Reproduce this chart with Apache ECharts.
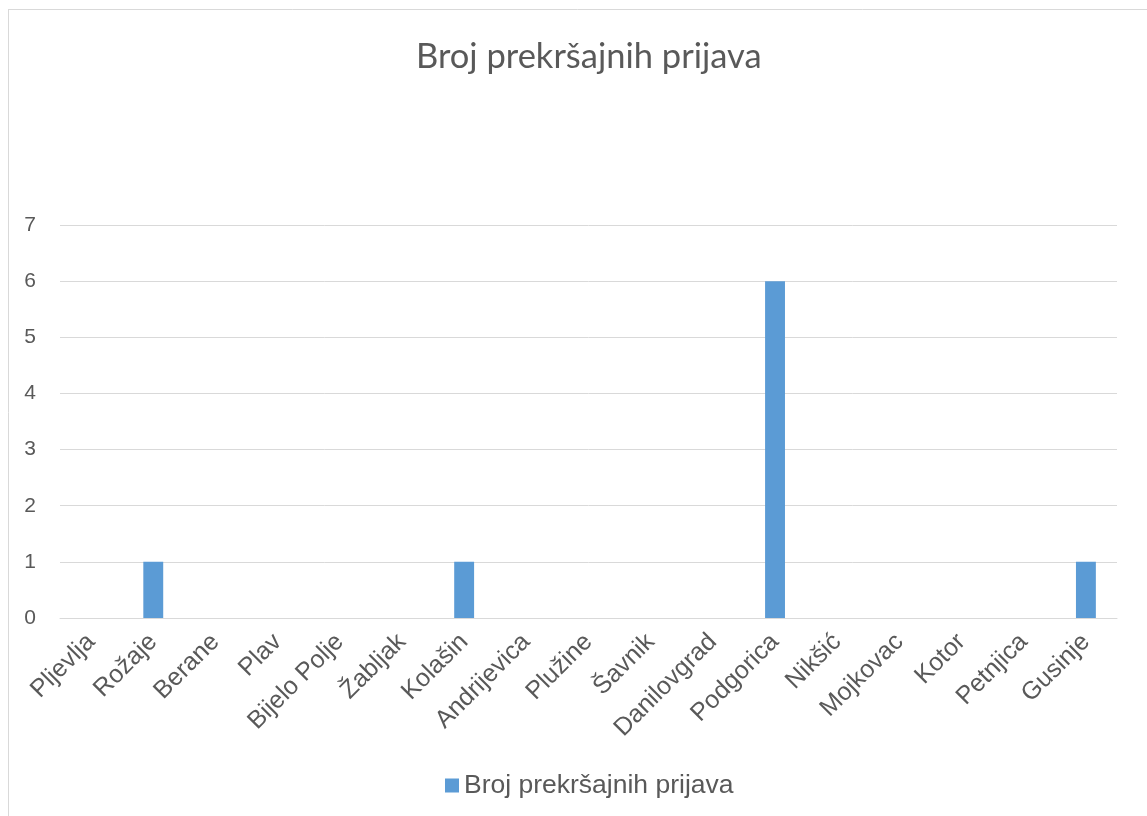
<!DOCTYPE html>
<html>
<head>
<meta charset="utf-8">
<script src="https://cdn.jsdelivr.net/npm/echarts@6/dist/echarts.min.js"></script>
<style>
html, body { margin: 0; padding: 0; background: #fff; }
#box { width: 1147px; height: 816px; }
</style>
</head>
<body>
<div id="box"></div>
<script>
// gradovi i broj prijava
var cities = ['Pljevlja', 'Rožaje', 'Berane', 'Plav', 'Bijelo Polje', 'Žabljak', 'Kolašin', 'Andrijevica',
    'Plužine', 'Šavnik', 'Danilovgrad', 'Podgorica', 'Nikšić', 'Mojkovac', 'Kotor', 'Petnjica', 'Gusinje'];
var counts = [0, 1, 0, 0, 0, 0, 1, 0, 0, 0, 0, 6, 0, 0, 0, 0, 1];
var seriesName = 'Broj prekršajnih prijava';
var titleText = 'Broj prekršajnih prijava';

var myChart = echarts.init(document.getElementById('box'));
var option = {
    backgroundColor: '#fff',
    animation: false,
    title: {
        text: titleText,
        left: 411,
        top: 34,
        textStyle: { fontFamily: 'Lato', fontWeight: 'normal', fontSize: 34.5, color: '#595959' }
    },
    legend: {
        data: [seriesName],
        left: 440,
        top: 767,
        icon: 'rect',
        itemWidth: 14,
        itemHeight: 14,
        itemGap: 6,
        textStyle: { fontFamily: 'Liberation Sans', fontSize: 26.5, color: '#595959' }
    },
    grid: {
        left: 60,
        right: 30,
        top: 225,
        bottom: 198,
        containLabel: false,
        outerBoundsMode: 'none'
    },
    xAxis: {
        type: 'category',
        data: cities,
        axisLine: { show: true, lineStyle: { color: '#d9d9d9', width: 1 } },
        axisTick: { show: false },
        axisLabel: {
            rotate: 45,
            interval: 0,
            margin: 20,
            fontFamily: 'Liberation Sans',
            fontSize: 25,
            color: '#595959'
        }
    },
    yAxis: {
        type: 'value',
        min: 0,
        max: 7,
        interval: 1,
        axisLine: { show: false },
        axisTick: { show: false },
        splitLine: { lineStyle: { color: '#d9d9d9', width: 1 } },
        axisLabel: { margin: 24, fontFamily: 'Liberation Sans', fontSize: 21, color: '#595959' }
    },
    series: [{
        name: seriesName,
        type: 'bar',
        data: counts,
        barWidth: '32%',
        itemStyle: { color: '#5b9bd5' }
    }],
    graphic: [
        { type: 'line', shape: { x1: 8.5, y1: 9, x2: 8.5, y2: 816 }, style: { stroke: '#d9d9d9', lineWidth: 1 } },
        { type: 'line', shape: { x1: 8, y1: 9.5, x2: 1147, y2: 9.5 }, style: { stroke: '#d9d9d9', lineWidth: 1 } }
    ]
};
myChart.setOption(option);
</script>
</body>
</html>
